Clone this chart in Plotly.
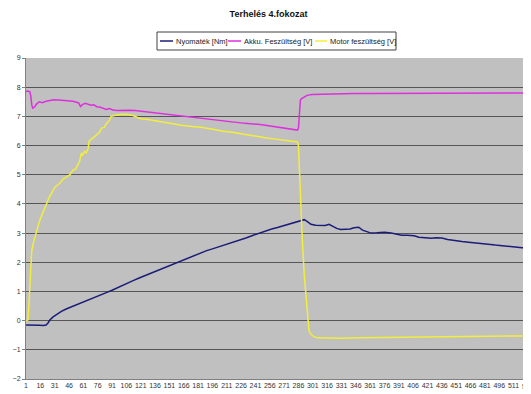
import plotly.graph_objects as go

# ---- data ----
tick_labels = [str(v) for v in range(1, 527, 15)]

torque_idx = [1, 5, 10, 15, 19, 22, 24, 26, 29, 33, 38, 43, 50, 55, 61, 68, 74, 78, 85, 91, 96, 102,
              108, 113, 120, 126, 131, 138, 144, 149, 155, 161, 166, 172, 178, 184, 190, 196, 202,
              208, 213, 218, 225, 231, 238, 244, 250, 253, 258, 264, 270, 275, 278, 282, 286, 288,
              290, 292, 295, 299, 304, 310, 314, 318, 322, 326, 330, 335, 340, 344, 349, 353, 358,
              362, 368, 376, 383, 388, 394, 400, 407, 412, 418, 425, 430, 436, 442, 450, 457, 464,
              471, 478, 485, 492, 499, 506, 513, 520, 527, 532]
torque_val = [-0.15, -0.15, -0.14, -0.16, -0.17, -0.15, -0.08, 0.02, 0.12, 0.22, 0.32, 0.40, 0.49,
              0.55, 0.63, 0.72, 0.80, 0.86, 0.96, 1.04, 1.12, 1.20, 1.29, 1.37, 1.47, 1.55, 1.62,
              1.71, 1.79, 1.86, 1.94, 2.02, 2.08, 2.16, 2.25, 2.34, 2.40, 2.46, 2.52, 2.58, 2.63,
              2.68, 2.76, 2.83, 2.92, 2.99, 3.06, 3.10, 3.14, 3.19, 3.25, 3.30, 3.33, 3.36, 3.40,
              3.42, 3.44, 3.46, 3.40, 3.30, 3.27, 3.25, 3.26, 3.30, 3.22, 3.16, 3.12, 3.12, 3.14,
              3.18, 3.20, 3.10, 3.03, 3.00, 3.01, 3.03, 3.00, 2.96, 2.93, 2.93, 2.91, 2.86, 2.83,
              2.82, 2.84, 2.83, 2.78, 2.73, 2.71, 2.69, 2.66, 2.63, 2.61, 2.59, 2.57, 2.54, 2.52,
              2.50, 2.48, 2.46]

akku_idx = [1, 3, 5, 6, 7, 8, 10, 12, 15, 18, 22, 26, 30, 35, 40, 45, 50, 53, 56, 58, 60, 63, 66,
            69, 72, 75, 78, 80, 82, 85, 88, 92, 96, 100, 105, 110, 115, 120, 126, 131, 140, 149,
            158, 166, 175, 184, 195, 206, 218, 230, 246, 255, 262, 267, 272, 278, 282, 285, 286,
            287, 288, 289, 290, 292, 295, 300, 310, 320, 330, 345, 360, 380, 395, 405, 420, 440,
            460, 480, 500, 520, 532]
akku_val = [7.85, 7.87, 7.84, 7.70, 7.40, 7.28, 7.32, 7.42, 7.50, 7.47, 7.52, 7.55, 7.57, 7.56,
            7.55, 7.54, 7.52, 7.49, 7.46, 7.34, 7.40, 7.45, 7.42, 7.38, 7.40, 7.33, 7.32, 7.30,
            7.28, 7.24, 7.27, 7.22, 7.20, 7.21, 7.22, 7.21, 7.20, 7.18, 7.15, 7.13, 7.10, 7.07,
            7.04, 7.01, 6.97, 6.92, 6.88, 6.84, 6.80, 6.76, 6.72, 6.68, 6.64, 6.62, 6.60, 6.58,
            6.56, 6.53, 6.60, 7.20, 7.55, 7.60, 7.62, 7.66, 7.72, 7.75, 7.76, 7.77, 7.77, 7.78,
            7.78, 7.78, 7.78, 7.79, 7.80, 7.80, 7.80, 7.80, 7.80, 7.80, 7.80]

motor_idx = [1, 3, 4, 5, 6, 7, 9, 12, 15, 18, 22, 25, 29, 32, 36, 40, 43, 47, 50, 53, 57, 59, 60,
             62, 64, 66, 67, 69, 72, 75, 78, 80, 83, 85, 88, 90, 93, 96, 100, 106, 110, 113, 117,
             120, 127, 134, 141, 148, 156, 165, 175, 184, 195, 206, 218, 230, 242, 253, 262, 270,
             278, 283, 285, 286, 287, 288, 290, 292, 294, 296, 297, 299, 302, 306, 315, 330, 350,
             380, 400, 430, 460, 490, 520, 532]
motor_val = [0.00, 0.02, 0.50, 1.10, 2.00, 2.40, 2.70, 3.05, 3.40, 3.65, 4.00, 4.20, 4.45, 4.60,
             4.70, 4.85, 4.92, 5.00, 5.15, 5.20, 5.45, 5.75, 5.65, 5.80, 5.75, 5.90, 6.15, 6.20,
             6.28, 6.35, 6.45, 6.60, 6.62, 6.75, 6.85, 7.00, 7.03, 7.05, 7.06, 7.07, 7.05, 7.03,
             6.97, 6.93, 6.90, 6.86, 6.82, 6.77, 6.73, 6.69, 6.65, 6.63, 6.57, 6.50, 6.45, 6.38,
             6.32, 6.26, 6.22, 6.19, 6.17, 6.14, 6.12, 6.00, 5.00, 4.10, 2.80, 1.60, 0.68, -0.17,
             -0.35, -0.46, -0.55, -0.59, -0.60, -0.60, -0.59, -0.58, -0.57, -0.56, -0.55, -0.54,
             -0.53, -0.52]

series_names = ["Nyomaték [Nm]", "Akku. Feszültség [V]", "Motor feszültség [V]"]
series_colors = ["#1c1c78", "#dd30dd", "#f2ee3c"]

# ---- figure ----
# the page body has an 8px margin, so the figure is drawn 8px smaller and
# all reference pixel positions are shifted by -8
OFF = 8
W, H = 531 - OFF, 394 - OFF
L, R, T, B = 26 - OFF, 0, 58 - OFF, 15
PW, PH = W - L - R, H - T - B
FONT = "Liberation Sans, Arial, sans-serif"

def px(xp):
    return (xp - OFF - L) / PW

def py(yp):
    return (H - B - (yp - OFF)) / PH

fig = go.Figure()
for xs, ys, name, col in zip([torque_idx, akku_idx, motor_idx],
                             [torque_val, akku_val, motor_val],
                             series_names, series_colors):
    fig.add_trace(go.Scatter(x=xs, y=ys, mode="lines", name=name,
                             line=dict(color=col, width=1.5), showlegend=False))

# custom legend (Excel style)
shapes = [dict(type="rect", xref="paper", yref="paper",
               x0=px(157), x1=px(396), y0=py(50), y1=py(32),
               line=dict(color="#404040", width=1), fillcolor="white")]
annotations = []
legend_pos = [(160, 173, 174), (228, 241, 242), (315, 327, 328)]
for (l0, l1, tx), name, col in zip(legend_pos, series_names, series_colors):
    shapes.append(dict(type="line", xref="paper", yref="paper",
                       x0=px(l0), x1=px(l1), y0=py(41), y1=py(41),
                       line=dict(color=col, width=1.5)))
    annotations.append(dict(text=name, xref="paper", yref="paper", x=px(tx), y=py(41),
                            xanchor="left", yanchor="middle", showarrow=False,
                            font=dict(family=FONT, size=7.5, color="#222")))

# last category label sits at the cropped right edge (only partly visible)
annotations.append(dict(text=tick_labels[-1], xref="x", yref="paper", x=int(tick_labels[-1]),
                        y=0, xanchor="center", yanchor="top", yshift=-2, showarrow=False,
                        font=dict(family=FONT, size=7, color="#333")))

fig.update_layout(
    width=W, height=H,
    margin=dict(l=L, r=R, t=T, b=B, pad=0, autoexpand=False),
    paper_bgcolor="white",
    plot_bgcolor="#c0c0c0",
    title=dict(text="<b>Terhelés 4.fokozat</b>", x=(268.5 - OFF) / W, xanchor="center",
               y=1 - (14 - OFF) / H, yanchor="middle", yref="container",
               font=dict(family=FONT, size=9, color="#111")),
    font=dict(family=FONT, size=7, color="#333"),
    shapes=shapes,
    annotations=annotations,
    showlegend=False,
)
fig.update_xaxes(
    range=[1, 1 + PW / 0.956],
    tickmode="array",
    tickvals=[int(t) for t in tick_labels[:-1]],
    ticktext=tick_labels[:-1],
    tickfont=dict(size=7, color="#333"),
    showgrid=False, zeroline=False,
    showline=True, linecolor="#808080", linewidth=1,
    ticks="", fixedrange=True, automargin=False,
)
fig.update_yaxes(
    range=[-2, 9],
    tickmode="linear", tick0=-2, dtick=1,
    tickfont=dict(size=7, color="#333"),
    showgrid=True, gridcolor="#555555", gridwidth=1,
    zeroline=False,
    showline=True, linecolor="#808080", linewidth=1,
    ticks="outside", ticklen=3, tickcolor="#808080",
    fixedrange=True, automargin=False,
)

fig.write_html("out.html")
